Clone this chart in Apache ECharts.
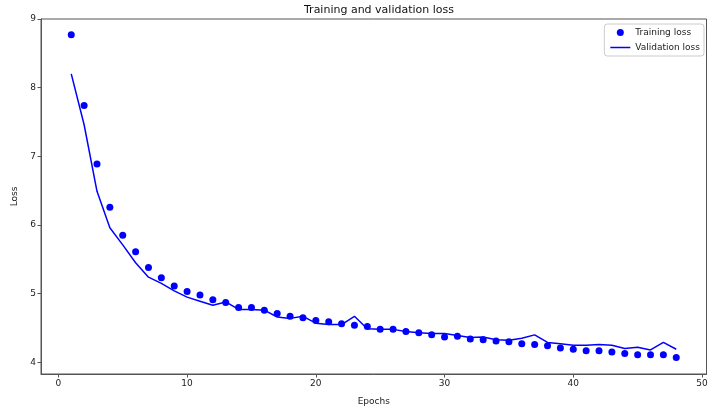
<!DOCTYPE html>
<html>
<head>
<meta charset="utf-8">
<script src="https://cdn.jsdelivr.net/npm/echarts@6/dist/echarts.min.js"></script>
<style>
html,body{margin:0;padding:0;background:#fff;}
#chart{width:711px;height:411px;}
</style>
</head>
<body>
<div id="chart"></div>
<script>
const epochs = [1,2,3,4,5,6,7,8,9,10,11,12,13,14,15,16,17,18,19,20,21,22,23,24,25,26,27,28,29,30,31,32,33,34,35,36,37,38,39,40,41,42,43,44,45,46,47,48];
const trainingLoss = [8.77,7.74,6.89,6.26,5.85,5.61,5.38,5.23,5.11,5.03,4.98,4.91,4.87,4.80,4.80,4.76,4.71,4.67,4.65,4.61,4.59,4.56,4.54,4.52,4.48,4.48,4.45,4.43,4.40,4.37,4.38,4.34,4.33,4.31,4.30,4.27,4.26,4.24,4.21,4.19,4.17,4.17,4.15,4.13,4.11,4.11,4.11,4.07];
const validationLoss = [8.20,7.46,6.49,5.96,5.71,5.45,5.24,5.15,5.04,4.95,4.89,4.83,4.88,4.77,4.77,4.76,4.66,4.64,4.67,4.57,4.55,4.55,4.67,4.49,4.48,4.48,4.45,4.43,4.42,4.42,4.39,4.36,4.37,4.33,4.32,4.35,4.40,4.29,4.27,4.25,4.25,4.26,4.25,4.20,4.22,4.18,4.29,4.19];
const xTicks = [0,10,20,30,40,50];
const yTicks = [4,5,6,7,8,9];

const chart = echarts.init(document.getElementById('chart'), null, {renderer:'canvas'});
const font = 'DejaVu Sans';
chart.setOption({
  animation: false,
  backgroundColor: '#fff',
  title: {
    text: 'Training and validation loss',
    left: 374, top: 0, textAlign: 'center',
    textStyle: {fontFamily: font, fontSize: 11, fontWeight: 'normal', color: '#111'}
  },
  legend: {
    orient: 'vertical', right: 7, top: 24,
    backgroundColor: '#fff', borderColor: '#ccc', borderWidth: 1, borderRadius: 3,
    padding: [4, 4, 4, 6], itemGap: 6, itemWidth: 20, itemHeight: 7,
    textStyle: {fontFamily: font, fontSize: 9, color: '#222'},
    data: [
      {name: 'Training loss', icon: 'circle'},
      {name: 'Validation loss', icon: 'path://M0,0 M0,7 M0,2.75 L20,2.75 L20,4.25 L0,4.25 Z'}
    ]
  },
  grid: {left: 41, right: 4.5, top: 19, bottom: 34, show: true, borderColor: '#555', borderWidth: 1},
  xAxis: {
    type: 'value', min: -1.35, max: 50.35,
    name: 'Epochs', nameLocation: 'middle', nameGap: 23,
    nameTextStyle: {fontFamily: font, fontSize: 9, color: '#222'},
    axisLine: {show: true, onZero: false, lineStyle: {color: '#555', width: 1}},
    axisTick: {show: true, customValues: xTicks, length: 3.5, lineStyle: {color: '#555'}},
    axisLabel: {customValues: xTicks, fontFamily: font, fontSize: 9, color: '#222', margin: 5},
    splitLine: {show: false}
  },
  yAxis: {
    type: 'value', min: 3.83, max: 9.0,
    name: 'Loss', nameLocation: 'middle', nameGap: 21, nameRotate: 90,
    nameTextStyle: {fontFamily: font, fontSize: 9, color: '#222'},
    axisLine: {show: true, onZero: false, lineStyle: {color: '#555', width: 1}},
    axisTick: {show: true, customValues: yTicks, length: 3.5, lineStyle: {color: '#555'}},
    axisLabel: {customValues: yTicks, fontFamily: font, fontSize: 9, color: '#222', margin: 5},
    splitLine: {show: false}
  },
  series: [
    {
      name: 'Training loss', type: 'scatter', symbol: 'circle', symbolSize: 7,
      itemStyle: {color: '#0000ff', opacity: 1},
      data: epochs.map((e, i) => [e, trainingLoss[i]])
    },
    {
      name: 'Validation loss', type: 'line', symbol: 'none', showSymbol: false,
      lineStyle: {color: '#0000ff', width: 1.5}, itemStyle: {color: '#0000ff'},
      data: epochs.map((e, i) => [e, validationLoss[i]])
    }
  ]
});
</script>
</body>
</html>
